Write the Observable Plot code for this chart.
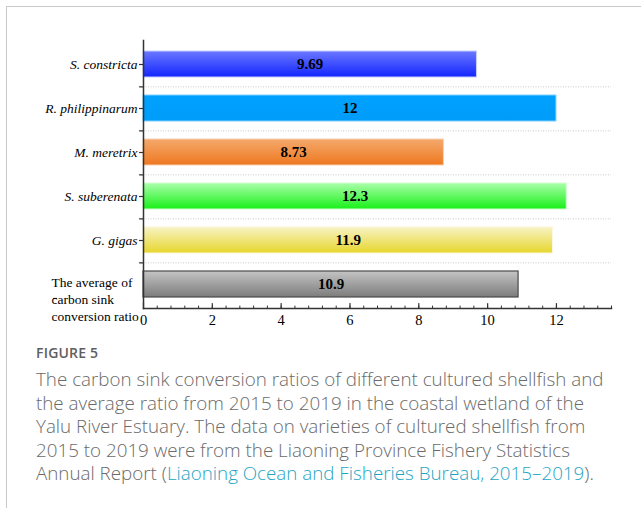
<!DOCTYPE html>
<html><head><meta charset="utf-8">
<script src="https://cdn.jsdelivr.net/npm/d3@7"></script>
<script src="https://cdn.jsdelivr.net/npm/@observablehq/plot@0.6"></script>
<style>
html,body{margin:0;padding:0;background:#fff}
body{width:641px;height:508px;overflow:hidden;position:relative}
#frame{position:absolute;left:6px;top:6px;width:700px;height:600px;border-left:1.5px solid #c9c9c9;border-top:1.5px solid #c9c9c9;box-sizing:border-box}
#chart{position:absolute;left:0;top:0}
#fig{position:absolute;left:36px;top:344px;font-family:"Open Sans";font-weight:600;font-size:14px;line-height:18px;color:#5e5e5e;letter-spacing:0.2px}
#caption{position:absolute;left:36px;top:368px;width:600px;white-space:nowrap;font-family:"Open Sans";font-weight:300;font-size:18.8px;line-height:23.5px;color:#6a6a6a}
#caption a{color:#1fa5c4;text-decoration:none}
</style>
</head><body>
<div id="frame"></div>
<div id="chart"></div>
<div id="fig">FIGURE 5</div>
<div id="caption">The carbon sink conversion ratios of different cultured shellfish and<br>the average ratio from 2015 to 2019 in the coastal wetland of the<br>Yalu River Estuary. The data on varieties of cultured shellfish from<br>2015 to 2019 were from the Liaoning Province Fishery Statistics<br>Annual Report (<a>Liaoning Ocean and Fisheries Bureau, 2015–2019</a>).</div>
<script>
const categories = ["S. constricta", "R. philippinarum", "M. meretrix", "S. suberenata", "G. gigas", "The average of carbon sink conversion ratio"];
const values = [9.69, 12, 8.73, 12.3, 11.9, 10.9];
const valueLabels = ["9.69", "12", "8.73", "12.3", "11.9", "10.9"];
const gradTop = ["#6b78ff", "#00a2ff", "#f4a96c", "#aaffaa", "#f8f3c4", "#c4c4c4"];
const gradBottom = ["#1226ff", "#009cfa", "#ee7820", "#18f018", "#e6d62c", "#7c7c7c"];
const barStroke = ["#c8ceff", "#7fd0ff", "#f8d0b0", "#d0ffd0", "#fbf6dc", "#4a4a4a"];
const xTicks = [0, 2, 4, 6, 8, 10, 12];
const avgLabel = "The average of\ncarbon sink\nconversion ratio";

const rows = categories.map((c, i) => ({category: c, value: values[i], label: valueLabels[i]}));

const W = 641, marginLeft = 143, marginRight = 30, marginTop = 40, marginBottom = 30, H = 338;
const step = (H - marginTop - marginBottom) / 6;
const minorTicks = d3.range(0, 34).map(k => +(k * 0.4).toFixed(1)).concat([13.6]);

const tickUp = {draw(ctx, l) { ctx.moveTo(0, 0); ctx.lineTo(0, -l); }};

const defs = () => {
  const d = d3.create("svg:defs");
  gradTop.forEach((t, i) => {
    const g = d.append("linearGradient").attr("id", "grad" + i).attr("x1", 0).attr("y1", 0).attr("x2", 0).attr("y2", 1);
    g.append("stop").attr("offset", "0%").attr("stop-color", t);
    g.append("stop").attr("offset", "100%").attr("stop-color", gradBottom[i]);
  });
  return d.node();
};

const plot = Plot.plot({
  width: W, height: H,
  marginLeft, marginRight, marginTop, marginBottom,
  style: {fontFamily: "Liberation Serif", fontSize: "14px", color: "#000", background: "transparent"},
  x: {domain: [0, 13.6], axis: null, label: null},
  y: {type: "band", domain: categories, paddingInner: 0.4, paddingOuter: 0.2, axis: null, label: null},
  marks: [
    defs,
    Plot.ruleY(categories.slice(0, 5), {dy: step / 2, stroke: "#bdbdbd", strokeDasharray: "1,1.5", strokeWidth: 0.8}),
    ...rows.map((r, i) => Plot.barX([r], {x: "value", y: "category", fill: `url(#grad${i})`, stroke: barStroke[i], strokeWidth: i === 5 ? 1.2 : 1})),
    Plot.text(rows, {x: d => d.value / 2, y: "category", text: "label", fontWeight: "bold", fontSize: 15, fontFamily: "Liberation Serif", fill: "#000"}),
    Plot.frame({anchor: "left", stroke: "#333", strokeWidth: 1.5}),
    Plot.frame({anchor: "bottom", stroke: "#333", strokeWidth: 1.5}),
    Plot.axisY(categories.slice(0, 5), {label: null, tickSize: 4, tickPadding: 2, fontStyle: "italic", fontSize: 13.5, stroke: "#333", strokeWidth: 1.2}),
    Plot.axisY([categories[5]], {label: null, tickSize: 4, tickPadding: 2, tickFormat: () => avgLabel, textAnchor: "start", dx: -86, dy: 14, lineHeight: 1.28, fontSize: 13.5, stroke: "#333", strokeWidth: 1.2}),
    Plot.vector(categories.slice(0, 5), {y: d => d, dy: step / 2, frameAnchor: "left", length: 4, rotate: -90, anchor: "start", shape: tickUp, stroke: "#333", strokeWidth: 1.2}),
    Plot.vector(xTicks, {x: d => d, frameAnchor: "bottom", length: 5, rotate: 0, anchor: "start", shape: tickUp, stroke: "#333", strokeWidth: 1.2}),
    Plot.vector(minorTicks, {x: d => d, frameAnchor: "bottom", length: 2.5, rotate: 0, anchor: "start", shape: tickUp, stroke: "#333", strokeWidth: 1}),
    Plot.axisX(xTicks, {label: null, tickSize: 0, tickPadding: 6, fontSize: 14.5, fontFamily: "Liberation Serif"})
  ]
});
document.getElementById("chart").appendChild(plot);
</script>
</body></html>
